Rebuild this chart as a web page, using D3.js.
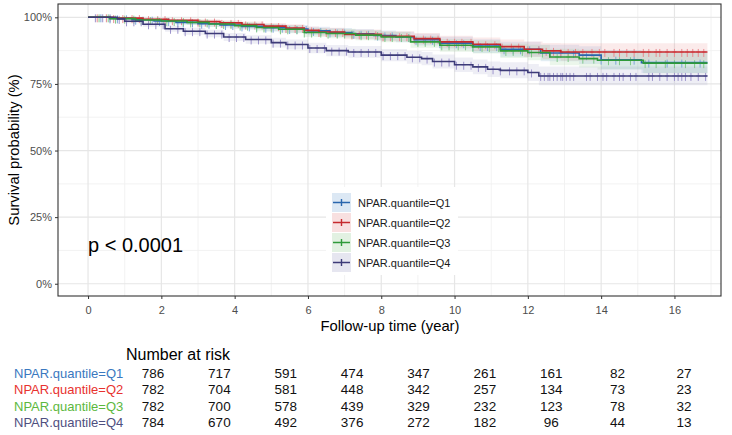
<!DOCTYPE html>
<html lang="en">
<head>
<meta charset="UTF-8" />
<title>KM curves by NPAR quantile</title>
<script src="https://d3js.org/d3.v7.min.js"></script>
<style>
  body { margin: 0; background: #fff; }
  text { font-family: "Liberation Sans", Arial, sans-serif; }
</style>
</head>
<body>
<div id="chart"></div>
<script>
const groups = ["NPAR.quantile=Q1", "NPAR.quantile=Q2", "NPAR.quantile=Q3", "NPAR.quantile=Q4"]

// step points: time (years), survival (%), half width of 95% CI (%)
const q1Time = [0, 0.6, 1.2, 1.8, 2.4, 3.0, 3.6, 4.2, 4.8, 5.4, 6.0, 6.6, 7.2, 7.8, 8.4, 8.9, 9.6, 10.5, 11.25, 12.35, 13.4, 14.0, 15.1, 16.9]
const q1Surv = [100, 99.6, 99.1, 98.6, 98.1, 97.6, 97.1, 96.6, 96.1, 95.6, 94.9, 94.3, 93.8, 93.2, 92.6, 91.6, 90.3, 89.2, 88.0, 86.6, 85.8, 84.1, 83.0, 83.0]
const q1Ci = [0, 0.4, 0.6, 0.8, 1.0, 1.1, 1.2, 1.3, 1.4, 1.5, 1.6, 1.7, 1.8, 1.9, 2.0, 2.2, 2.4, 2.6, 2.8, 3.1, 3.3, 3.6, 3.9, 3.9]

const q2Time = [0, 0.7, 1.5, 2.2, 3.0, 3.6, 4.2, 4.8, 5.4, 5.9, 6.3, 7.0, 8.0, 8.9, 9.6, 10.5, 11.25, 11.9, 12.4, 12.9, 16.9]
const q2Surv = [100, 99.7, 99.3, 98.9, 98.4, 97.9, 97.3, 96.7, 96.0, 95.1, 94.5, 93.6, 92.9, 92.0, 90.8, 89.9, 89.0, 88.0, 87.4, 87.0, 87.0]
const q2Ci = [0, 0.3, 0.5, 0.7, 0.9, 1.0, 1.1, 1.2, 1.4, 1.5, 1.6, 1.8, 1.9, 2.1, 2.3, 2.5, 2.7, 2.9, 3.0, 3.3, 3.3]

const q3Time = [0, 0.6, 1.3, 2.0, 2.7, 3.3, 4.0, 4.6, 5.2, 5.9, 6.5, 7.3, 8.0, 8.8, 9.6, 10.5, 11.25, 12.0, 12.6, 13.4, 13.9, 15.15, 16.9]
const q3Surv = [100, 99.5, 99.0, 98.6, 98.1, 97.5, 96.9, 96.2, 95.5, 94.3, 93.9, 93.3, 92.6, 90.8, 89.5, 88.9, 87.4, 86.8, 85.1, 84.5, 83.9, 82.8, 82.8]
const q3Ci = [0, 0.4, 0.6, 0.8, 1.0, 1.1, 1.3, 1.4, 1.5, 1.7, 1.8, 1.9, 2.0, 2.2, 2.4, 2.5, 2.7, 2.9, 3.1, 3.3, 3.5, 3.8, 3.8]

const q4Time = [0, 0.8, 1.0, 1.5, 2.1, 2.6, 3.2, 3.7, 4.3, 5.0, 5.4, 6.0, 6.5, 7.1, 8.0, 8.7, 9.1, 9.4, 10.0, 10.5, 10.9, 11.25, 12.0, 12.3, 16.9]
const q4Surv = [100, 99.4, 98.5, 97.4, 95.7, 94.8, 93.9, 92.6, 91.7, 90.5, 89.8, 88.5, 87.5, 87.0, 85.8, 85.0, 84.5, 83.4, 82.2, 81.4, 80.5, 80.1, 79.3, 78.0, 78.0]
const q4Ci = [0, 0.5, 0.7, 0.9, 1.1, 1.3, 1.4, 1.5, 1.6, 1.8, 1.9, 2.0, 2.1, 2.2, 2.3, 2.4, 2.5, 2.6, 2.7, 2.8, 2.9, 3.0, 3.2, 3.5, 3.5]

// censoring times (years)
const q1Cens = [0.35, 0.6, 0.8, 1.05, 1.3, 1.5, 1.75, 1.95, 2.2, 2.45, 2.6, 2.85, 3.1, 3.3, 3.5, 3.75, 3.95, 4.2, 4.4, 4.6, 4.85, 5.05, 5.3, 5.5, 5.7, 5.95, 6.15, 6.35, 6.6, 6.8, 7.0, 7.25, 7.45, 7.65, 7.9, 8.1, 8.3, 8.55, 8.75, 8.95, 9.2, 9.4, 9.6, 9.85, 10.05, 10.25, 10.5, 10.7, 10.9, 11.15, 11.35, 11.6, 11.8, 12.05, 12.3, 12.6, 12.9, 13.25, 13.6, 14.0, 14.4, 14.9, 15.3, 15.8, 16.2, 16.7]
const q2Cens = [0.25, 0.5, 0.7, 0.95, 1.2, 1.4, 1.65, 1.9, 2.1, 2.3, 2.55, 2.8, 3.0, 3.2, 3.45, 3.65, 3.9, 4.1, 4.3, 4.55, 4.75, 5.0, 5.2, 5.4, 5.65, 5.85, 6.1, 6.3, 6.5, 6.75, 6.95, 7.2, 7.4, 7.6, 7.85, 8.05, 8.25, 8.5, 8.7, 8.9, 9.15, 9.35, 9.55, 9.8, 10.0, 10.2, 10.45, 10.65, 10.85, 11.1, 11.3, 11.55, 11.75, 12.0, 12.3, 12.5, 12.7, 12.9, 13.1, 13.3, 13.5, 13.75, 13.95, 14.1, 14.35, 14.5, 14.7, 14.9, 15.15, 15.3, 15.5, 15.6, 15.8, 16.0, 16.2, 16.35, 16.5, 16.65, 16.8]
const q3Cens = [0.3, 0.55, 0.75, 1.0, 1.25, 1.45, 1.7, 1.9, 2.15, 2.35, 2.6, 2.8, 3.05, 3.25, 3.5, 3.7, 3.9, 4.15, 4.35, 4.6, 4.8, 5.0, 5.25, 5.45, 5.7, 5.9, 6.1, 6.35, 6.55, 6.8, 7.0, 7.2, 7.45, 7.65, 7.9, 8.1, 8.3, 8.55, 8.75, 9.0, 9.2, 9.45, 9.65, 9.85, 10.1, 10.3, 10.5, 10.75, 10.95, 11.2, 11.4, 11.6, 11.85, 12.1, 12.4, 12.8, 13.1, 13.5, 13.8, 14.2, 14.5, 14.8, 15.2, 15.5, 15.75, 16.0, 16.3, 16.55, 16.8]
const q4Cens = [0.2, 0.4, 0.6, 0.85, 1.05, 1.25, 1.45, 1.65, 1.85, 2.05, 2.25, 2.45, 2.65, 2.85, 3.05, 3.25, 3.45, 3.65, 3.85, 4.05, 4.25, 4.45, 4.65, 4.85, 5.05, 5.25, 5.45, 5.65, 5.85, 6.05, 6.25, 6.45, 6.65, 6.85, 7.05, 7.25, 7.45, 7.65, 7.85, 8.05, 8.25, 8.45, 8.65, 8.85, 9.05, 9.25, 9.45, 9.65, 9.85, 10.05, 10.25, 10.45, 10.65, 10.85, 11.05, 11.25, 11.5, 11.7, 11.9, 12.1, 12.35, 12.45, 12.55, 12.6, 12.7, 12.8, 12.9, 12.95, 13.05, 13.15, 13.25, 13.6, 13.7, 13.9, 14.05, 14.15, 14.35, 14.5, 14.6, 14.8, 14.95, 15.3, 15.4, 15.6, 15.8, 16.0, 16.1, 16.2, 16.3, 16.45, 16.65, 16.85]

// number at risk
const riskTimes = [0, 2, 4, 6, 8, 10, 12, 14, 16]
const riskQ1 = [786, 717, 591, 474, 347, 261, 161, 82, 27]
const riskQ2 = [782, 704, 581, 448, 342, 257, 134, 73, 23]
const riskQ3 = [782, 700, 578, 439, 329, 232, 123, 78, 32]
const riskQ4 = [784, 670, 492, 376, 272, 182, 96, 44, 13]

const xTicks = [0, 2, 4, 6, 8, 10, 12, 14, 16]
const yTicks = [0, 25, 50, 75, 100]
const pLabel = "p < 0.0001"

const lineColors = ["#2a66ad", "#c52a2e", "#2f9a3a", "#3d3b78"]
const bandColors = ["#6f9fd6", "#e78a8a", "#86c98a", "#9a98c4"]
const tickColors = ["#7ea7d8", "#e88a90", "#82c98a", "#9c93cc"]
const keyFills = ["#dce8f4", "#f8e0e0", "#e2f1e2", "#e6e6f0"]
const labelColors = ["#3a78c0", "#e8322f", "#5cb83e", "#4f4f80"]

const series = [
  { time: q1Time, surv: q1Surv, ci: q1Ci, cens: q1Cens },
  { time: q2Time, surv: q2Surv, ci: q2Ci, cens: q2Cens },
  { time: q3Time, surv: q3Surv, ci: q3Ci, cens: q3Cens },
  { time: q4Time, surv: q4Surv, ci: q4Ci, cens: q4Cens }
]
const riskRows = [riskQ1, riskQ2, riskQ3, riskQ4]

const W = 732, H = 435
const panel = { left: 58, right: 721, top: 4, bottom: 296 }

const svg = d3.select("#chart").append("svg")
  .attr("width", W).attr("height", H)

const x = d3.scaleLinear().domain([-0.82, 17.27]).range([panel.left, panel.right])
const y = d3.scaleLinear().domain([-4.6, 105]).range([panel.bottom, panel.top])

// grid
const grid = svg.append("g")
const minorX = d3.range(1, 18, 2)
const minorY = [12.5, 37.5, 62.5, 87.5]
grid.selectAll(".mx").data(minorX).enter().append("line")
  .attr("x1", d => x(d)).attr("x2", d => x(d))
  .attr("y1", panel.top).attr("y2", panel.bottom)
  .attr("stroke", "#f0f0f0").attr("stroke-width", 0.9)
grid.selectAll(".my").data(minorY).enter().append("line")
  .attr("y1", d => y(d)).attr("y2", d => y(d))
  .attr("x1", panel.left).attr("x2", panel.right)
  .attr("stroke", "#f0f0f0").attr("stroke-width", 0.9)
grid.selectAll(".gx").data(xTicks).enter().append("line")
  .attr("x1", d => x(d)).attr("x2", d => x(d))
  .attr("y1", panel.top).attr("y2", panel.bottom)
  .attr("stroke", "#e6e6e6").attr("stroke-width", 1.2)
grid.selectAll(".gy").data(yTicks).enter().append("line")
  .attr("y1", d => y(d)).attr("y2", d => y(d))
  .attr("x1", panel.left).attr("x2", panel.right)
  .attr("stroke", "#e6e6e6").attr("stroke-width", 1.2)

// confidence bands
const area = d3.area()
  .curve(d3.curveStepAfter)
  .x(d => x(d.t))
  .y0(d => y(d.s - d.c))
  .y1(d => y(Math.min(100, d.s + d.c)))

const line = d3.line()
  .curve(d3.curveStepAfter)
  .x(d => x(d.t))
  .y(d => y(d.s))

const pts = series.map(s => s.time.map((t, i) => ({ t: t, s: s.surv[i], c: s.ci[i] })))

svg.selectAll(".band").data(pts).enter().append("path")
  .attr("d", area)
  .attr("fill", (d, i) => bandColors[i])
  .attr("fill-opacity", 0.17)

// censor marks
const bis = d3.bisector(d => d).right
series.forEach((s, i) => {
  const g = svg.append("g")
  const survAt = t => s.surv[Math.max(0, bis(s.time, t) - 1)]
  g.selectAll("path").data(s.cens).enter().append("path")
    .attr("d", t => {
      const cx = x(t), cy = y(survAt(t))
      return `M${cx},${cy - 3}V${cy + 5}M${cx - 2},${cy}H${cx + 2}`
    })
    .attr("stroke", tickColors[i])
    .attr("stroke-width", 1)
    .attr("fill", "none")
})

// curves
svg.selectAll(".curve").data(pts).enter().append("path")
  .attr("d", line)
  .attr("fill", "none")
  .attr("stroke", (d, i) => lineColors[i])
  .attr("stroke-width", 1.6)

// panel border
svg.append("rect")
  .attr("x", panel.left).attr("y", panel.top)
  .attr("width", panel.right - panel.left).attr("height", panel.bottom - panel.top)
  .attr("fill", "none").attr("stroke", "#333").attr("stroke-width", 1.1)

// axes
const xAxis = svg.append("g")
  .attr("transform", `translate(0,${panel.bottom})`)
  .call(d3.axisBottom(x).tickValues(xTicks).tickSize(3).tickPadding(7))
const yAxis = svg.append("g")
  .attr("transform", `translate(${panel.left},0)`)
  .call(d3.axisLeft(y).tickValues(yTicks).tickFormat(d => d + "%").tickSize(3).tickPadding(3))
;[xAxis, yAxis].forEach(a => {
  a.select(".domain").remove()
  a.selectAll(".tick line").attr("stroke", "#333")
  a.selectAll(".tick text")
    .attr("fill", "#4d4d4d")
    .style("font-size", "11px")
    .style("font-family", "'Liberation Sans', Arial, sans-serif")
})

svg.append("text")
  .attr("x", 390).attr("y", 331)
  .attr("text-anchor", "middle")
  .style("font-size", "14.8px")
  .text("Follow-up time (year)")

svg.append("text")
  .attr("transform", `translate(19,${(panel.top + panel.bottom) / 2}) rotate(-90)`)
  .attr("text-anchor", "middle")
  .style("font-size", "14.8px")
  .text("Survival probability (%)")

svg.append("text")
  .attr("x", 88).attr("y", 252)
  .style("font-size", "20px")
  .text(pLabel)

// legend
const legend = svg.append("g")
legend.append("rect")
  .attr("x", 326).attr("y", 187).attr("width", 132).attr("height", 88)
  .attr("fill", "#fff")
groups.forEach((g, i) => {
  const ky = 193 + i * 20
  legend.append("rect")
    .attr("x", 332).attr("y", ky).attr("width", 19).attr("height", 19)
    .attr("fill", keyFills[i])
  legend.append("path")
    .attr("d", `M333,${ky + 9.5}H350M341.5,${ky + 6}V${ky + 13}`)
    .attr("stroke", lineColors[i]).attr("stroke-width", 1.4)
  legend.append("text")
    .attr("x", 358).attr("y", ky + 14)
    .style("font-size", "11px")
    .attr("fill", "#1a1a1a")
    .text(g)
})

// risk table
const tx = d3.scaleLinear().domain([0, 16]).range([153, 684])
svg.append("text")
  .attr("x", 126).attr("y", 360)
  .style("font-size", "16px")
  .text("Number at risk")
riskRows.forEach((row, i) => {
  const by = 378 + i * 16.4
  svg.append("text")
    .attr("x", 14).attr("y", by)
    .attr("fill", labelColors[i])
    .style("font-size", "13px")
    .text(groups[i])
  svg.append("g").selectAll("text").data(row).enter().append("text")
    .attr("x", (d, j) => tx(riskTimes[j]))
    .attr("y", by)
    .attr("text-anchor", "middle")
    .style("font-size", "13.5px")
    .attr("fill", "#111")
    .text(d => d)
})
</script>
</body>
</html>
